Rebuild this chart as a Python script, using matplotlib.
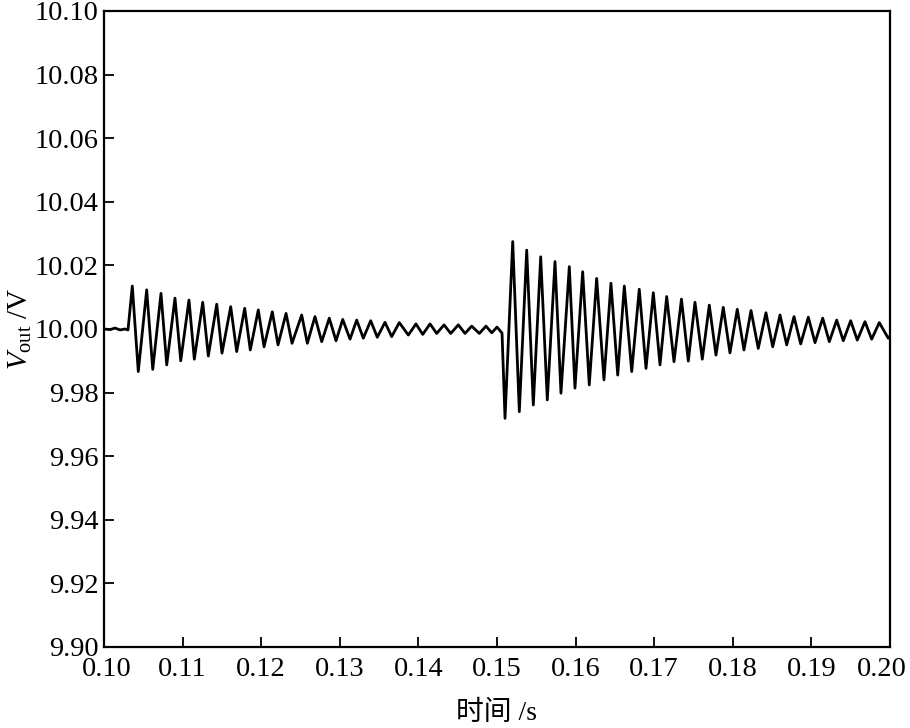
import matplotlib
matplotlib.use("Agg")
import matplotlib.pyplot as plt
from matplotlib.transforms import ScaledTranslation

# output voltage (peaks and troughs of each cycle)
t_before = [0.10000, 0.10076, 0.10140, 0.10204, 0.10267, 0.10305]
v_before = [10.0000, 9.9998, 10.0003, 9.9997, 10.0000, 9.9997]

t_step1 = [0.10360, 0.10436, 0.10543, 0.10620, 0.10725, 0.10798, 0.10903, 0.10976,
           0.11081, 0.11149, 0.11256, 0.11327, 0.11434, 0.11501, 0.11612, 0.11688,
           0.11790, 0.11861, 0.11963, 0.12036, 0.12141, 0.12214, 0.12316, 0.12392,
           0.12515, 0.12587, 0.12684, 0.12770, 0.12866, 0.12952, 0.13037, 0.13130,
           0.13215, 0.13299, 0.13393, 0.13477, 0.13575, 0.13660, 0.13757, 0.13872,
           0.13969, 0.14055, 0.14148, 0.14233, 0.14326, 0.14411, 0.14508, 0.14593,
           0.14678, 0.14775, 0.14860, 0.14933, 0.15000, 0.15064]
v_step1 = [10.0135, 9.9866, 10.0123, 9.9873, 10.0112, 9.9887, 10.0097, 9.9900,
           10.0091, 9.9905, 10.0084, 9.9915, 10.0078, 9.9924, 10.0070, 9.9929,
           10.0065, 9.9934, 10.0060, 9.9944, 10.0054, 9.9950, 10.0049, 9.9955,
           10.0044, 9.9955, 10.0039, 9.9960, 10.0034, 9.9963, 10.0030, 9.9968,
           10.0028, 9.9971, 10.0026, 9.9974, 10.0021, 9.9976, 10.0020, 9.9981,
           10.0016, 9.9983, 10.0016, 9.9986, 10.0013, 9.9986, 10.0013, 9.9986,
           10.0009, 9.9986, 10.0009, 9.9988, 10.0006, 9.9987]

t_step2 = [0.15102, 0.15200, 0.15284, 0.15378, 0.15462, 0.15556, 0.15640, 0.15738,
           0.15814, 0.15920, 0.15992, 0.16090, 0.16174, 0.16268, 0.16361, 0.16450,
           0.16536, 0.16620, 0.16714, 0.16810, 0.16896, 0.16989, 0.17074, 0.17159,
           0.17252, 0.17347, 0.17434, 0.17519, 0.17612, 0.17701, 0.17786, 0.17879,
           0.17964, 0.18057, 0.18142, 0.18232, 0.18324, 0.18422, 0.18508, 0.18601,
           0.18686, 0.18779, 0.18864, 0.18961, 0.19046, 0.19144, 0.19228, 0.19322,
           0.19406, 0.19500, 0.19584, 0.19682, 0.19767, 0.19864, 0.19978, 0.20000]
v_step2 = [9.9719, 10.0275, 9.9740, 10.0248, 9.9761, 10.0227, 9.9777, 10.0212,
           9.9798, 10.0196, 9.9814, 10.0180, 9.9824, 10.0159, 9.9840, 10.0144,
           9.9855, 10.0135, 9.9866, 10.0125, 9.9876, 10.0114, 9.9887, 10.0102,
           9.9897, 10.0094, 9.9899, 10.0084, 9.9905, 10.0075, 9.9918, 10.0068,
           9.9925, 10.0062, 9.9934, 10.0058, 9.9939, 10.0051, 9.9944, 10.0044,
           9.9950, 10.0039, 9.9953, 10.0037, 9.9957, 10.0034, 9.9960, 10.0028,
           9.9963, 10.0026, 9.9965, 10.0023, 9.9968, 10.0020, 9.9971, 9.9978]

x_ticks = [0.10, 0.11, 0.12, 0.13, 0.14, 0.15, 0.16, 0.17, 0.18, 0.19, 0.20]
y_ticks = [9.90, 9.92, 9.94, 9.96, 9.98, 10.00, 10.02, 10.04, 10.06, 10.08, 10.10]

plt.rcParams['font.family'] = ['Liberation Serif', 'Noto Sans CJK SC', 'DejaVu Sans']
plt.rcParams['mathtext.fontset'] = 'custom'
plt.rcParams['mathtext.rm'] = 'Liberation Serif'
plt.rcParams['mathtext.it'] = 'Liberation Serif:italic'

fig = plt.figure(figsize=(9.1, 7.28), dpi=100)
ax = fig.add_axes([0.1143, 0.1113, 0.8637, 0.8736])

t_all = t_before + t_step1 + t_step2
v_all = v_before + v_step1 + v_step2
ax.plot(t_all, v_all, color='black', lw=2.0)

ax.set_xlim(0.10, 0.20)
ax.set_ylim(9.90, 10.10)
ax.set_xticks(x_ticks)
ax.set_xticklabels(["%.2f" % x for x in x_ticks])
ax.set_yticks(y_ticks)
ax.set_yticklabels(["%.2f" % y for y in y_ticks])
ax.tick_params(direction='in', length=7, width=1.3, labelsize=20.5,
               top=False, right=False)
ax.tick_params(axis='x', pad=7)
ax.tick_params(axis='y', pad=4)
for s in ax.spines.values():
    s.set_linewidth(1.6)

# nudge the end labels inwards a little, as in the original
lbls = ax.get_xticklabels()
lbls[0].set_transform(lbls[0].get_transform() + ScaledTranslation(0.03, 0, fig.dpi_scale_trans))
lbls[-1].set_transform(lbls[-1].get_transform() + ScaledTranslation(-0.08, 0, fig.dpi_scale_trans))

ax.set_xlabel("时间 /s", fontsize=20, labelpad=14)
ax.set_ylabel(r"$V_{\rm out}$ /V", fontsize=21, labelpad=0)

fig.savefig("out.png", dpi=100)
